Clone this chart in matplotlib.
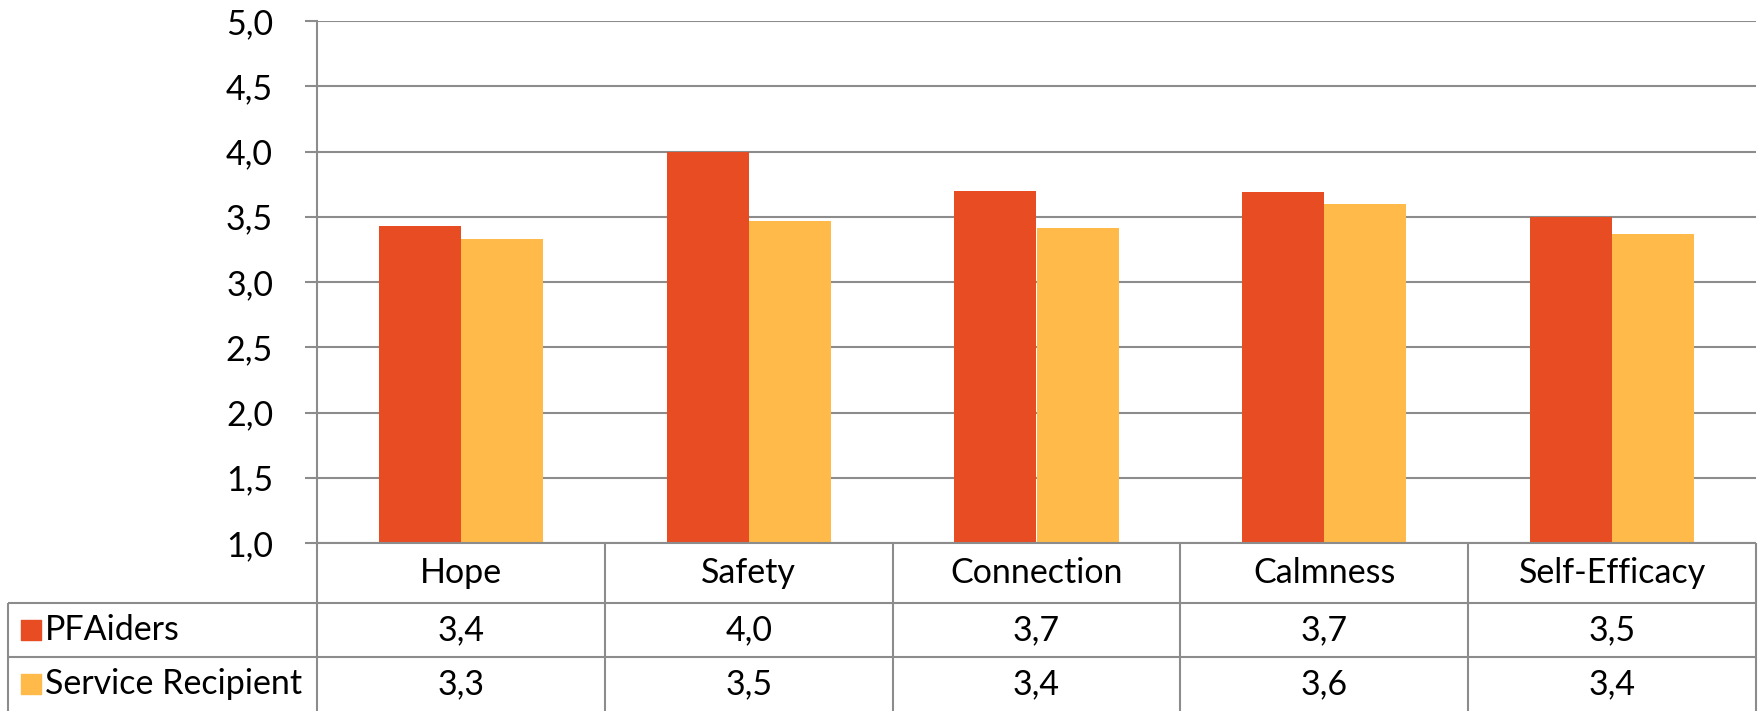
import numpy as np
import matplotlib.pyplot as plt

plt.rcParams["font.family"] = ["Lato", "DejaVu Sans"]

# data
categories = ["Hope", "Safety", "Connection", "Calmness", "Self-Efficacy"]
series_names = ["PFAiders", "Service Recipient"]
pfaiders = [3.43, 4.00, 3.70, 3.69, 3.50]
recipients = [3.33, 3.47, 3.41, 3.60, 3.37]
colors = ["#E74C23", "#FFBA4A"]
yticks = [1.0, 1.5, 2.0, 2.5, 3.0, 3.5, 4.0, 4.5, 5.0]

W, H = 1762, 711
grid_c = "#8C8C8C"
lw = 1.5
fs = 24.5

fig = plt.figure(figsize=(W / 100, H / 100), dpi=100)

# plot area in pixels
left, right, top, base = 317, 1756, 21, 543
ax = fig.add_axes([left / W, (H - base) / H, (right - left) / W, (base - top) / H])

x = np.arange(len(categories))
bw = 0.285
ax.bar(x - bw / 2, pfaiders, bw, color=colors[0], zorder=3)
ax.bar(x + bw / 2, recipients, bw, color=colors[1], zorder=3)

ax.set_xlim(-0.5, len(categories) - 0.5)
ax.set_ylim(1.0, 5.0)
ax.set_yticks(yticks)
ax.set_yticklabels([f"{v:.1f}".replace(".", ",") for v in yticks], fontsize=fs)
ax.yaxis.grid(True, color=grid_c, lw=lw, zorder=0)
ax.tick_params(axis="y", length=8.6, width=lw, color=grid_c, pad=23)
ax.set_xticks([])
for s in ["top", "right", "bottom"]:
    ax.spines[s].set_visible(False)
ax.spines["left"].set_color(grid_c)
ax.spines["left"].set_linewidth(lw)

# data table under the bars
tleft = 8
tax = fig.add_axes([tleft / W, 0, (right - tleft) / W, (H - base) / H])
unit = (right - left) / len(categories)
x0 = -0.5 - (left - tleft) / unit
xr = len(categories) - 0.5
tax.set_xlim(x0, xr)
tax.set_ylim(H - base, 0)
tax.axis("off")

rows = [0, 60, 114, 168]
kw = dict(color=grid_c, lw=lw, clip_on=False)
tax.hlines(rows[0], -0.5, xr, **kw)
tax.hlines(rows[1:3], x0, xr, **kw)
tax.vlines([x0], rows[1], rows[3], **kw)
tax.vlines(np.arange(len(categories) + 1) - 0.5, rows[0], rows[3], **kw)

for i, c in enumerate(categories):
    tax.text(i, (rows[0] + rows[1]) / 2, c, ha="center", va="center", fontsize=fs)

for r, (name, vals) in enumerate(zip(series_names, [pfaiders, recipients])):
    yc = (rows[r + 1] + rows[r + 2]) / 2
    tax.scatter([x0 + 23 / unit], [yc], marker="s", s=228, color=colors[r], clip_on=False)
    tax.text(x0 + 37 / unit, yc, name, ha="left", va="center", fontsize=fs)
    for i, v in enumerate(vals):
        tax.text(i, yc, f"{v:.1f}".replace(".", ","), ha="center", va="center", fontsize=fs)

fig.savefig("out.png", dpi=100)
